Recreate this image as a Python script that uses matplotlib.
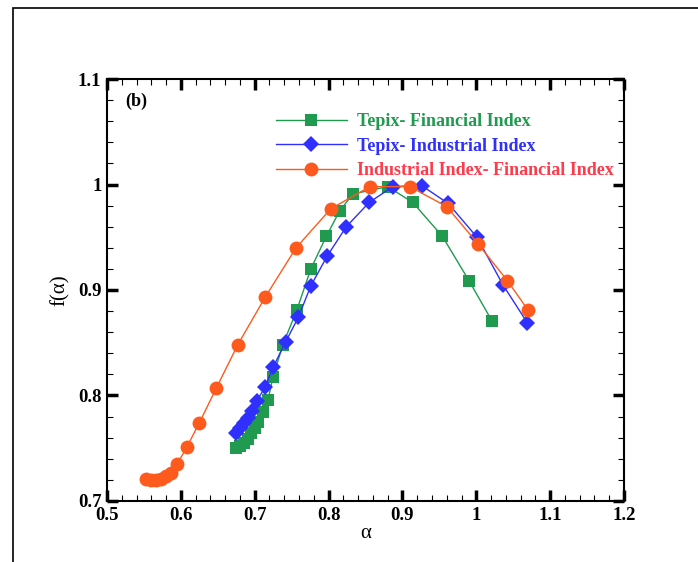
import matplotlib.pyplot as plt
from matplotlib.patches import Rectangle
from matplotlib.ticker import MultipleLocator, FuncFormatter

# f(alpha) spectra
alpha_tf = [0.675, 0.680, 0.685, 0.691, 0.695, 0.700, 0.704, 0.711, 0.718, 0.725, 0.738,
            0.757, 0.776, 0.797, 0.815, 0.833, 0.880, 0.914, 0.954, 0.990, 1.021]
f_tf = [0.750, 0.752, 0.755, 0.759, 0.764, 0.769, 0.775, 0.784, 0.796, 0.818, 0.848,
        0.881, 0.920, 0.951, 0.975, 0.991, 0.998, 0.983, 0.951, 0.909, 0.871]

alpha_ti = [0.675, 0.680, 0.685, 0.691, 0.696, 0.703, 0.714, 0.725, 0.742, 0.759,
            0.776, 0.798, 0.824, 0.855, 0.887, 0.926, 0.962, 1.001, 1.036, 1.069]
f_ti = [0.764, 0.769, 0.774, 0.779, 0.785, 0.795, 0.808, 0.827, 0.851, 0.874,
        0.904, 0.932, 0.960, 0.983, 0.998, 0.999, 0.982, 0.950, 0.905, 0.869]

alpha_if = [0.553, 0.560, 0.566, 0.573, 0.580, 0.587, 0.595, 0.608, 0.625, 0.648,
            0.677, 0.714, 0.756, 0.803, 0.856, 0.910, 0.960, 1.002, 1.042, 1.070]
f_if = [0.721, 0.720, 0.720, 0.721, 0.724, 0.727, 0.735, 0.751, 0.774, 0.807,
        0.848, 0.893, 0.940, 0.977, 0.998, 0.998, 0.979, 0.944, 0.909, 0.881]

labels = ['Tepix- Financial Index', 'Tepix- Industrial Index', 'Industrial Index- Financial Index']
line_colors = ['#1f9a4e', '#2f2fff', '#ff5a1e']
text_colors = ['#1f9a4e', '#2f2fff', '#ff3a4a']

plt.rcParams['font.family'] = ['Liberation Serif', 'DejaVu Serif']

fig = plt.figure(figsize=(6.98, 5.62), dpi=100)
# outer frame of the scanned figure
fig.patches.append(Rectangle((13 / 698, -0.05), 1.1, 1 - 8 / 562 + 0.05, transform=fig.transFigure,
                             fill=False, edgecolor='black', linewidth=1.2))

ax = fig.add_axes([107 / 698, 1 - 501 / 562, 517 / 698, 422 / 562])

ax.plot(alpha_tf, f_tf, color=line_colors[0], linewidth=1, marker='s', markersize=8,
        markeredgewidth=0, label=labels[0])
ax.plot(alpha_ti, f_ti, color=line_colors[1], linewidth=1, marker='D', markersize=8,
        markeredgewidth=0, label=labels[1])
ax.plot(alpha_if, f_if, color=line_colors[2], linewidth=1, marker='o', markersize=10,
        markeredgewidth=0, label=labels[2])

ax.set_xlim(0.5, 1.2)
ax.set_ylim(0.7, 1.1)
ax.xaxis.set_major_locator(MultipleLocator(0.1))
ax.xaxis.set_minor_locator(MultipleLocator(0.02))
ax.yaxis.set_major_locator(MultipleLocator(0.1))
ax.yaxis.set_minor_locator(MultipleLocator(0.02))
fmt = FuncFormatter(lambda v, p: ('%.1f' % v).rstrip('0').rstrip('.'))
ax.xaxis.set_major_formatter(fmt)
ax.yaxis.set_major_formatter(fmt)

ax.tick_params(which='both', direction='in', top=True, right=True)
ax.tick_params(which='major', length=8, width=2.5, labelsize=13.5, pad=4)
ax.tick_params(which='minor', length=4, width=0.8)
for lab in ax.get_xticklabels() + ax.get_yticklabels():
    lab.set_fontweight('bold')
for sp in ax.spines.values():
    sp.set_linewidth(1.5)

ax.set_xlabel('α', fontsize=15, labelpad=0)
ax.set_ylabel('f(α)', fontsize=15, labelpad=6)
ax.text(0.035, 0.948, '(b)', transform=ax.transAxes, fontsize=13, fontweight='bold',
        va='center', ha='left')

leg = ax.legend(loc='upper left', bbox_to_anchor=(0.296, 0.958), frameon=False,
                handlelength=3.9, handletextpad=0.55, labelspacing=0.42,
                prop={'size': 13, 'weight': 'bold'})
for t, c in zip(leg.get_texts(), text_colors):
    t.set_color(c)

fig.savefig('out.png', dpi=100)
